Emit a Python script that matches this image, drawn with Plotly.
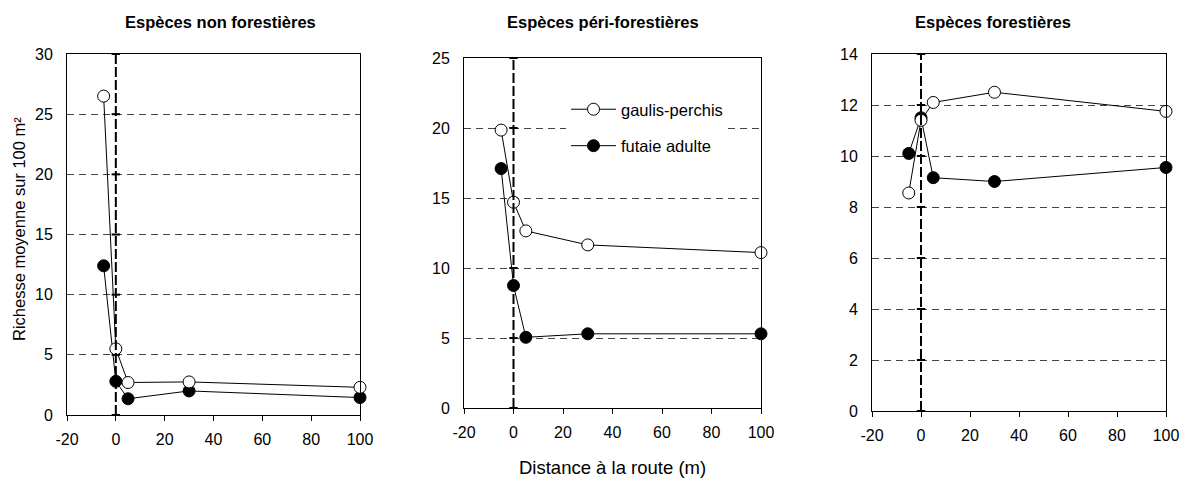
import plotly.graph_objects as go

# ---- data ----
distance = [-5, 0, 5, 30, 100]

non_forest_gaulis = [26.5, 5.5, 2.7, 2.75, 2.3]
non_forest_futaie = [12.4, 2.8, 1.35, 2.0, 1.45]

peri_forest_gaulis = [19.85, 14.7, 12.65, 11.65, 11.1]
peri_forest_futaie = [17.1, 8.75, 5.05, 5.3, 5.3]

forest_gaulis = [8.55, 11.4, 12.1, 12.5, 11.75]
forest_futaie = [10.1, 11.5, 9.15, 9.0, 9.55]

panel_titles = ["Espèces non forestières", "Espèces péri-forestières", "Espèces forestières"]
y_ranges = [(0, 30), (0, 25), (0, 14)]
y_dtick = [5, 5, 2]
x_ticks = [-20, 0, 20, 40, 60, 80, 100]
x_tick_labels = ["-20", "0", "20", "40", "60", "80", "100"]
road_x = 0

series = [
    (non_forest_gaulis, non_forest_futaie),
    (peri_forest_gaulis, peri_forest_futaie),
    (forest_gaulis, forest_futaie),
]

FONT = "Liberation Sans, Arial, sans-serif"
OFF = 8  # page body margin
W, H = 1187 - OFF, 483 - OFF


def px(v):
    return (v - OFF) / W


def py(v):
    return 1 - (v - OFF) / H


# panel geometry (screen pixels)
x_dom_px = [(67, 360), (464, 761), (872, 1166)]
y_dom_px = [(54, 415), (58, 408), (54, 411)]
title_cx = [220, 603, 993]

fig = go.Figure()

for i, (g, f) in enumerate(series):
    ax = "" if i == 0 else str(i + 1)
    xa, ya = "x" + ax, "y" + ax
    lo, hi = y_ranges[i]
    tickvals = list(range(lo, hi + 1, y_dtick[i]))
    # ticks on the road line (y-axis crossing)
    fig.add_trace(go.Scatter(
        x=[road_x] * len(tickvals), y=tickvals, mode="markers",
        marker=dict(symbol="line-ew", size=6, line=dict(color="black", width=2)),
        showlegend=False, hoverinfo="skip", xaxis=xa, yaxis=ya, cliponaxis=False))
    fig.add_trace(go.Scatter(
        x=distance, y=f, mode="lines+markers", name="futaie adulte",
        line=dict(color="black", width=1),
        marker=dict(symbol="circle", size=12, color="black", line=dict(color="black", width=1)),
        showlegend=(i == 1), legendgroup="b", legendrank=2,
        xaxis=xa, yaxis=ya, cliponaxis=False))
    fig.add_trace(go.Scatter(
        x=distance, y=g, mode="lines+markers", name="gaulis-perchis",
        line=dict(color="black", width=1),
        marker=dict(symbol="circle", size=12, color="white", line=dict(color="black", width=1)),
        showlegend=(i == 1), legendgroup="a", legendrank=1,
        xaxis=xa, yaxis=ya, cliponaxis=False))

    x0, x1 = x_dom_px[i]
    y0, y1 = y_dom_px[i]
    fig.update_layout(**{
        "xaxis" + ax: dict(
            domain=[px(x0), px(x1)], range=[-20, 100], tickvals=x_ticks, ticktext=x_tick_labels,
            showline=True, mirror=True, linecolor="black", linewidth=1,
            ticks="outside", ticklen=5, tickcolor="black", showgrid=False, zeroline=False,
            automargin=False, ticklabelstandoff=5,
            tickfont=dict(family=FONT, size=16, color="black"), anchor=ya),
        "yaxis" + ax: dict(
            domain=[py(y1), py(y0)], range=[lo, hi], dtick=y_dtick[i],
            showline=True, mirror=True, linecolor="black", linewidth=1,
            ticks="", showgrid=True, gridcolor="#444444", gridwidth=1, griddash="7px,5px",
            zeroline=False, automargin=False, ticklabelstandoff=10,
            tickfont=dict(family=FONT, size=16, color="black"), anchor=xa),
    })
    fig.add_shape(type="line", xref=xa, yref=ya + " domain", x0=road_x, x1=road_x, y0=0, y1=1,
                  line=dict(color="black", width=2, dash="10px,3px"), layer="above")
    fig.add_annotation(text="<b>" + panel_titles[i] + "</b>", xref="paper", yref="paper",
                       x=px(title_cx[i]), y=py(22), xanchor="center", yanchor="middle",
                       showarrow=False, font=dict(family=FONT, size=16.5, color="black"))

fig.add_annotation(text="Richesse moyenne sur 100 m²", xref="paper", yref="paper",
                   x=px(19), y=py(229), xanchor="center", yanchor="middle", textangle=-90,
                   showarrow=False, font=dict(family=FONT, size=16.5, color="black"))
fig.add_annotation(text="Distance à la route (m)", xref="paper", yref="paper",
                   x=px(612), y=py(467), xanchor="center", yanchor="middle", showarrow=False,
                   font=dict(family=FONT, size=18.5, color="black"))

fig.update_layout(
    width=W, height=H, margin=dict(l=0, r=0, t=0, b=0, autoexpand=False),
    paper_bgcolor="white", plot_bgcolor="white",
    showlegend=True,
    legend=dict(x=px(566), y=py(92), xanchor="left", yanchor="top",
                bgcolor="white", borderwidth=0, traceorder="grouped", tracegroupgap=12,
                itemwidth=45,
                font=dict(family=FONT, size=16.5, color="black")),
)

fig.write_html("out.html")
